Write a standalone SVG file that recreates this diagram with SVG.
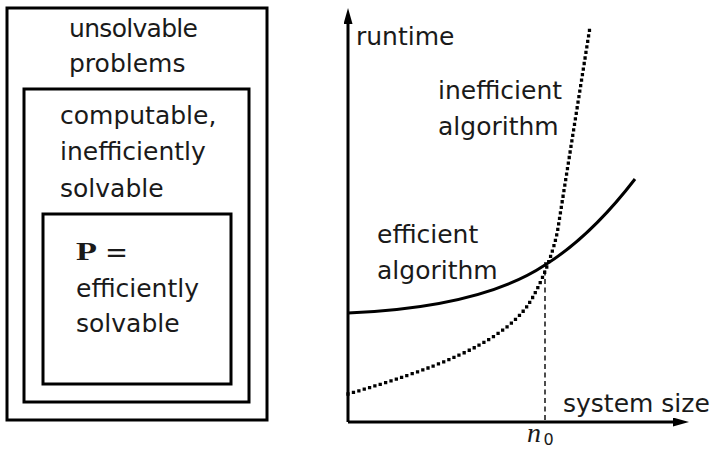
<svg xmlns="http://www.w3.org/2000/svg" width="710" height="449" viewBox="0 0 710 449">
  <style>
    .box { fill: none; stroke: #000; stroke-width: 3; }
    .lbl { font-family: "DejaVu Sans", "Liberation Sans", sans-serif; font-size: 25px; fill: #1a1a1a; }
    .axis { fill: none; stroke: #000; stroke-width: 3; }
    .curve { fill: none; stroke: #000; stroke-width: 3; }
    .dots { fill: none; stroke: #000; stroke-width: 3.3; stroke-linecap: square; stroke-dasharray: 0 5.6; }
    .guide { fill: none; stroke: #000; stroke-width: 1.4; stroke-dasharray: 5 3.5; }
  </style>
  <defs>
    <marker id="arrow" viewBox="0 0 16 9" markerUnits="userSpaceOnUse" markerWidth="16" markerHeight="9" refX="2" refY="4.5" orient="auto">
      <path d="M0,0 L16,4.5 L0,9 z" fill="#000"/>
    </marker>
  </defs>

  <rect width="710" height="449" fill="#fff"/>

  <!-- Nested complexity classes -->
  <g id="unsolvable">
    <rect class="box" x="7" y="8" width="260" height="412"/>
    <text class="lbl" x="69" y="37" textLength="129">unsolvable</text>
    <text class="lbl" x="69" y="72">problems</text>
  </g>
  <g id="computable">
    <rect class="box" x="24" y="89" width="225" height="313"/>
    <text class="lbl" x="60" y="124">computable,</text>
    <text class="lbl" x="60" y="160">inefficiently</text>
    <text class="lbl" x="60" y="196.5">solvable</text>
  </g>
  <g id="class-p">
    <rect class="box" x="43" y="214" width="188" height="170"/>
    <text x="76" y="260" font-family="Liberation Serif, serif" font-weight="bold" font-size="25" textLength="21" lengthAdjust="spacingAndGlyphs" fill="#1a1a1a">P</text>
    <text x="105" y="262" font-family="DejaVu Sans, sans-serif" font-size="28" textLength="23" lengthAdjust="spacingAndGlyphs" fill="#1a1a1a">=</text>
    <text class="lbl" x="76" y="296.5">efficiently</text>
    <text class="lbl" x="76" y="332">solvable</text>
  </g>

  <!-- Runtime plot -->
  <g id="axes">
    <line class="axis" x1="348" y1="422" x2="348" y2="22" marker-end="url(#arrow)"/>
    <line class="axis" x1="348" y1="422" x2="675" y2="422" marker-end="url(#arrow)"/>
    <text class="lbl" x="356" y="45">runtime</text>
    <text class="lbl" x="563" y="412">system size</text>
  </g>

  <g id="connectors">
    <line class="guide" x1="545" y1="262" x2="545" y2="421"/>
    <path id="efficient-curve" class="curve" d="M348,313 C420,310 495,298 545,265 C585,240 615,205 635,179"/>
    <path id="inefficient-curve" class="dots" d="M348,394 C430,370 500,345 528,305 C539,289 554,253 558,228 L590,27"/>
  </g>

  <g id="efficient-label">
    <text class="lbl" x="377" y="242.5">efficient</text>
    <text class="lbl" x="377" y="279">algorithm</text>
  </g>
  <g id="inefficient-label">
    <text class="lbl" x="438" y="99">inefficient</text>
    <text class="lbl" x="438" y="135">algorithm</text>
  </g>

  <g id="n0-label">
    <text x="527" y="441.5" font-family="Liberation Serif, serif" font-style="italic" font-size="28" fill="#1a1a1a">n</text>
    <text x="543.5" y="445" font-family="DejaVu Sans, sans-serif" font-size="16" fill="#1a1a1a">0</text>
  </g>
</svg>
